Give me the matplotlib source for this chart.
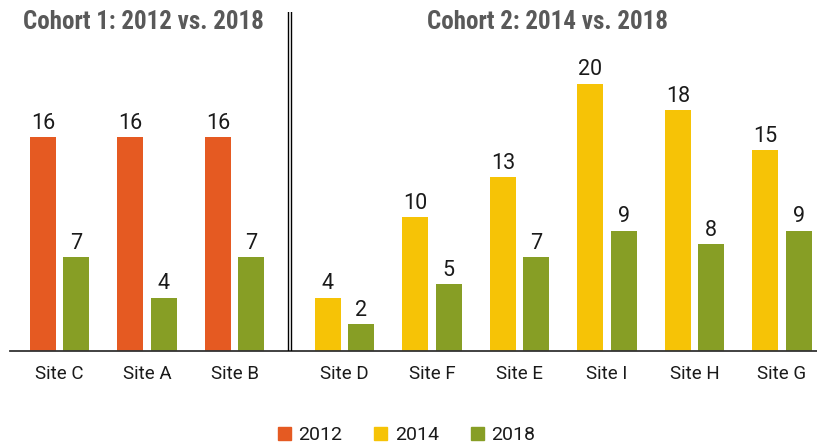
import matplotlib
matplotlib.use("Agg")
import matplotlib.pyplot as plt
from matplotlib import font_manager as fm
from matplotlib.patches import Patch

# ---- data ----
cohort1_sites = ["Site C", "Site A", "Site B"]
cohort1_2012 = [16, 16, 16]
cohort1_2018 = [7, 4, 7]

cohort2_sites = ["Site D", "Site F", "Site E", "Site I", "Site H", "Site G"]
cohort2_2014 = [4, 10, 13, 20, 18, 15]
cohort2_2018 = [2, 5, 7, 9, 8, 9]

title1 = "Cohort 1: 2012 vs. 2018"
title2 = "Cohort 2: 2014 vs. 2018"
legend_labels = ["2012", "2014", "2018"]

C2012 = "#E55A22"
C2014 = "#F6C306"
C2018 = "#879E25"

avail = {f.name for f in fm.fontManager.ttflist}
def pick(*names):
    for n in names:
        if n in avail:
            return n
    return "DejaVu Sans"

title_font = pick("Roboto Condensed", "Barlow Semi Condensed", "Liberation Sans Narrow", "DejaVu Sans")
body_font = pick("Roboto", "Liberation Sans", "DejaVu Sans")

W, H = 817, 444
fig = plt.figure(figsize=(W / 100, H / 100), dpi=100)
ax_left_px, ax_bottom_px, ax_top_px = 10, 351, 12
ax = fig.add_axes([ax_left_px / W, (H - ax_bottom_px) / H,
                   (W - ax_left_px) / W, (ax_bottom_px - ax_top_px) / H])

gap = 0.257
pos1 = [float(i) for i in range(len(cohort1_sites))]
pos2 = [len(cohort1_sites) + gap + i for i in range(len(cohort2_sites))]
bw = 0.297
off = 0.189

def bars(positions, vals, color, sign):
    xs = [p + sign * off for p in positions]
    ax.bar(xs, vals, width=bw, color=color, zorder=2)
    for x, v in zip(xs, vals):
        ax.annotate(str(v), (x, v), xytext=(0, 2.5), textcoords="offset points",
                    ha="center", va="bottom", fontsize=15.5, color="#1a1a1a",
                    family=body_font)

bars(pos1, cohort1_2012, C2012, -1)
bars(pos1, cohort1_2018, C2018, +1)
bars(pos2, cohort2_2014, C2014, -1)
bars(pos2, cohort2_2018, C2018, +1)

x_left = -0.566
x_right = pos2[-1] + 0.40
ax.set_xlim(x_left, x_right)
ax.set_ylim(0, 25.35)

ax.set_xticks(pos1 + pos2)
ax.set_xticklabels(cohort1_sites + cohort2_sites, fontsize=13.5, color="#1a1a1a",
                   family=body_font)
ax.tick_params(axis="x", length=0, pad=10)
ax.set_yticks([])
for s in ["top", "right", "left"]:
    ax.spines[s].set_visible(False)
ax.spines["bottom"].set_color("#333333")
ax.spines["bottom"].set_linewidth(1.3)

# separator double line
sep = (pos1[-1] + pos2[0]) / 2
for dx in (-0.017, 0.017):
    ax.axvline(sep + dx, ymin=0, ymax=1, color="black", lw=1.0, zorder=3)

# titles
ty = 1.0 - 10 / (ax_bottom_px - ax_top_px)
ax.text(sum(pos1) / len(pos1) - 0.04, ty, title1, transform=ax.get_xaxis_transform(),
        ha="center", va="center", fontsize=18, fontweight="bold", color="#595959",
        family=title_font)
ax.text(sum(pos2) / len(pos2) - 0.18, ty, title2, transform=ax.get_xaxis_transform(),
        ha="center", va="center", fontsize=18, fontweight="bold", color="#595959",
        family=title_font)

# legend
handles = [Patch(color=c) for c in (C2012, C2014, C2018)]
leg = fig.legend(handles, legend_labels, loc="center", bbox_to_anchor=(406.5 / W, 1 - 435 / H),
                 ncol=3, frameon=False, handlelength=0.68, handleheight=0.68,
                 handletextpad=0.38, columnspacing=1.65, borderpad=0, borderaxespad=0,
                 prop={"family": body_font, "size": 14})
for t in leg.get_texts():
    t.set_color("#1a1a1a")

fig.savefig("out.png", dpi=100)
